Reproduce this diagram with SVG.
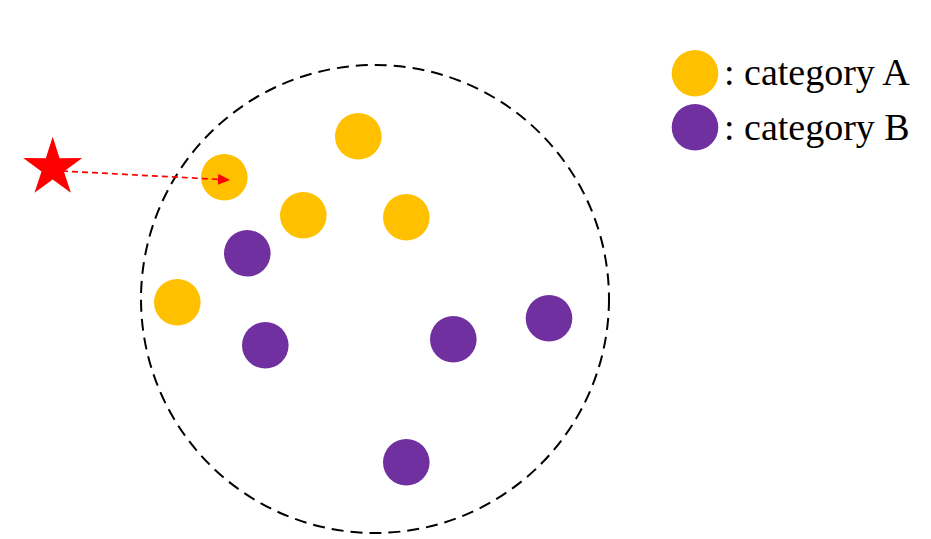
<svg xmlns="http://www.w3.org/2000/svg" width="931" height="539" viewBox="0 0 931 539">
<style>
.a{fill:#FFC000}
.b{fill:#7030A0}
.lbl{font-family:"Liberation Serif","Times New Roman",serif;font-size:38px;fill:#000}
</style>
<defs>
<marker id="ah" markerWidth="12" markerHeight="11" refX="12" refY="5.5" orient="auto" markerUnits="userSpaceOnUse" viewBox="0 0 12 11">
<path d="M0,0 L12,5.5 L0,11 z" fill="#FF0000"/>
</marker>
</defs>
<rect width="931" height="539" fill="#fff"/>
<g id="region">
<circle cx="375" cy="299" r="234" fill="none" stroke="#000" stroke-width="2" stroke-dasharray="12,7"/>
</g>
<g id="points">
<circle id="a1" class="a" cx="358.3" cy="136.3" r="23.3"/>
<circle id="a2" class="a" cx="224.3" cy="177.3" r="23.3"/>
<circle id="a3" class="a" cx="303.3" cy="215.3" r="23.3"/>
<circle id="a4" class="a" cx="406.3" cy="217.3" r="23.3"/>
<circle id="a5" class="a" cx="177.3" cy="302.3" r="23.3"/>
<circle id="b1" class="b" cx="247.3" cy="253.3" r="23.3"/>
<circle id="b2" class="b" cx="265.3" cy="345.3" r="23.3"/>
<circle id="b3" class="b" cx="453.3" cy="339.3" r="23.3"/>
<circle id="b4" class="b" cx="549" cy="318.3" r="23.3"/>
<circle id="b5" class="b" cx="406.3" cy="462.3" r="23.3"/>
</g>
<g id="star">
<polygon fill="#FF0000" points="52.7,136.7 59.6,158.2 82.2,158.1 63.9,171.4 70.9,192.8 52.7,179.5 34.5,192.8 41.5,171.4 23.2,158.1 45.8,158.2"/>
</g>
<g id="connectors">
<line x1="62" y1="171" x2="230" y2="180" stroke="#FF0000" stroke-width="1.7" stroke-dasharray="6,4" marker-end="url(#ah)"/>
</g>
<g id="legend">
<circle class="a" cx="695" cy="73.3" r="23.3"/>
<circle class="b" cx="695" cy="127.3" r="23.3"/>
<text class="lbl" x="724" y="85">: category A</text>
<text class="lbl" x="724" y="140">: category B</text>
</g>
</svg>
